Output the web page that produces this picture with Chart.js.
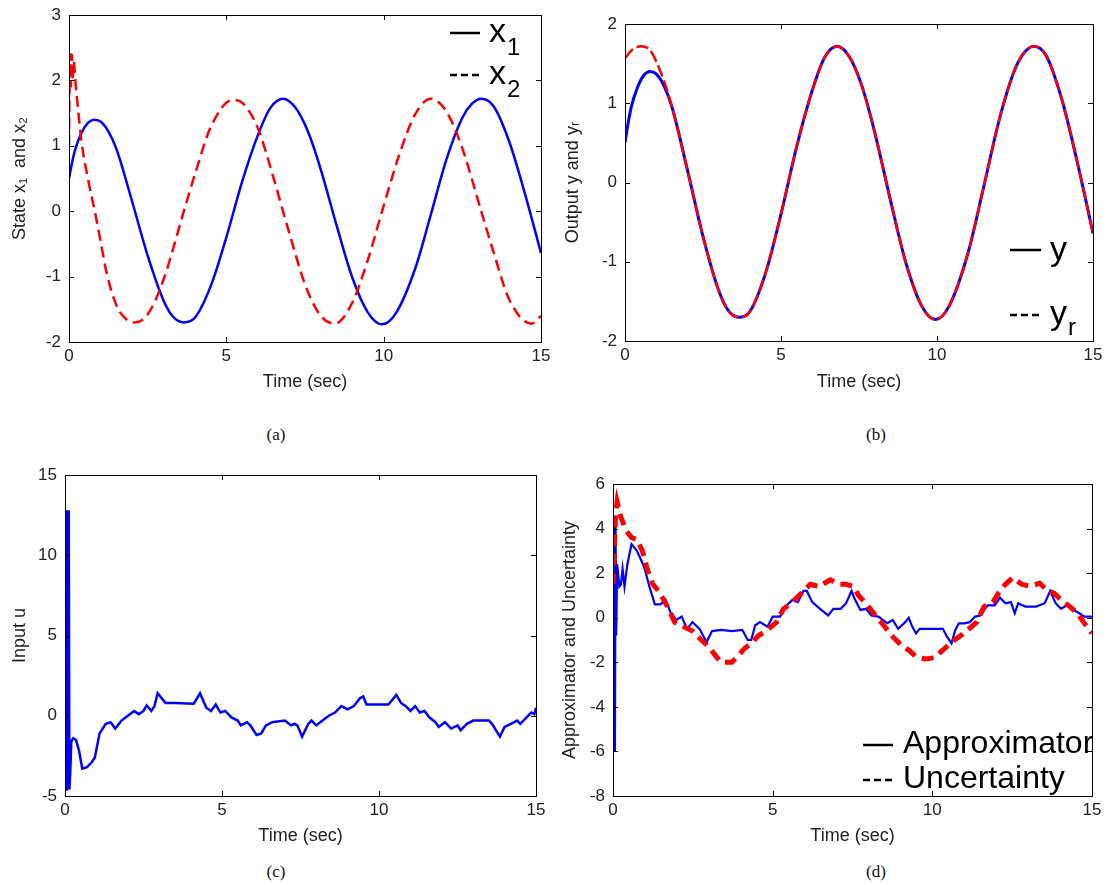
<!DOCTYPE html>
<html>
<head>
<meta charset="utf-8">
<script src="https://cdn.jsdelivr.net/npm/chart.js@4/dist/chart.umd.min.js"></script>
<style>
  body { margin: 0; background: #fff; }
  #page { position: relative; width: 1110px; height: 885px; overflow: hidden; }
  canvas { position: absolute; }
  .cap { position: absolute; width: 80px; text-align: center; font: 17px 'Liberation Serif', 'Times New Roman', serif; color: #111; line-height: 20px; }
</style>
</head>
<body>
<div id="page">
  <canvas id="chartA" width="560" height="400" style="left:0;top:0"></canvas>
  <canvas id="chartB" width="550" height="400" style="left:560px;top:0"></canvas>
  <canvas id="chartC" width="560" height="400" style="left:0;top:450px"></canvas>
  <canvas id="chartD" width="550" height="400" style="left:560px;top:450px"></canvas>
  <div class="cap" style="left:236px;top:425px">(a)</div>
  <div class="cap" style="left:836px;top:425px">(b)</div>
  <div class="cap" style="left:236px;top:862px">(c)</div>
  <div class="cap" style="left:836px;top:862px">(d)</div>
</div>
<script>
// (a) states, pairs of [time, value]
const stateX1 = [[0,0.5],[0.1,0.75],[0.2,0.95],[0.4,1.2],[0.6,1.35],[0.8,1.4],[1.0,1.37],[1.25,1.22],[1.5,0.96],
  [2.0,0.16],[2.5,-0.68],[3.0,-1.36],[3.3,-1.61],[3.65,-1.70],[4.0,-1.63],[4.5,-1.15],[5.0,-0.40],[5.5,0.45],
  [6.0,1.16],[6.4,1.58],[6.8,1.72],[7.2,1.58],[7.6,1.21],[8.0,0.64],[8.5,-0.21],[9.0,-1.01],[9.5,-1.55],
  [9.95,-1.73],[10.4,-1.55],[11.0,-0.88],[11.5,-0.05],[12.0,0.80],[12.5,1.43],[12.8,1.64],[13.1,1.72],
  [13.5,1.60],[14.0,1.05],[14.5,0.25],[15.0,-0.64]];
const stateX2 = [[0,1.0],[0.03,2.4],[0.06,1.9],[0.09,2.4],[0.12,2.0],[0.15,2.3],[0.2,2.0],[0.3,1.5],[0.4,1.05],
  [0.6,0.5],[0.82,0.0],[1.0,-0.45],[1.2,-0.95],[1.5,-1.43],[1.75,-1.62],[2.1,-1.70],[2.5,-1.58],[3.0,-1.05],
  [3.65,0.0],[4.0,0.56],[4.5,1.28],[5.2,1.70],[5.5,1.66],[6.0,1.27],[6.5,0.51],[6.8,0.0],[7.0,-0.33],
  [7.5,-1.12],[8.0,-1.60],[8.45,-1.72],[9.0,-1.40],[9.5,-0.74],[9.95,0.0],[10.5,0.87],[11.0,1.48],
  [11.5,1.72],[12.0,1.52],[12.5,0.96],[13.1,0.0],[13.5,-0.64],[14.0,-1.36],[14.7,-1.72],[15.0,-1.60]];

// (b) output y equals x1; reference yr
const outputY = stateX1;
const referenceYr = [[0,1.57],[0.25,1.68],[0.52,1.72],[0.8,1.67],[1.0,1.53],[1.25,1.28],[1.5,0.96],[2.0,0.16],
  [2.5,-0.68],[3.0,-1.36],[3.3,-1.61],[3.65,-1.70],[4.0,-1.63],[4.5,-1.15],[5.0,-0.40],[5.5,0.45],[6.0,1.16],
  [6.4,1.58],[6.8,1.72],[7.2,1.58],[7.6,1.21],[8.0,0.64],[8.5,-0.21],[9.0,-1.01],[9.5,-1.55],[9.95,-1.73],
  [10.4,-1.55],[11.0,-0.88],[11.5,-0.05],[12.0,0.80],[12.5,1.43],[12.8,1.64],[13.1,1.72],[13.5,1.60],
  [14.0,1.05],[14.5,0.25],[15.0,-0.64]];

// (c) control input
const inputU = [[0,3.0],[0.02,12.8],[0.04,-4.6],[0.06,12.8],[0.08,-4.6],[0.10,12.8],[0.12,10.7],[0.14,-4.6],
  [0.17,-3.4],[0.2,-1.6],[0.26,-1.4],[0.35,-1.5],[0.45,-2.2],[0.55,-3.3],[0.7,-3.2],[0.85,-2.9],[0.95,-2.6],
  [1.1,-1.1],[1.3,-0.5],[1.45,-0.4],[1.6,-0.8],[1.8,-0.3],[2.0,0.0],[2.2,0.3],[2.35,0.1],[2.5,0.3],[2.6,0.65],
  [2.75,0.3],[2.85,0.6],[2.95,1.4],[3.2,0.8],[3.5,0.8],[4.1,0.75],[4.3,1.4],[4.5,0.5],[4.65,0.3],[4.8,0.7],
  [4.95,0.2],[5.1,0.3],[5.3,-0.1],[5.5,-0.3],[5.6,-0.6],[5.8,-0.4],[5.9,-0.6],[6.1,-1.2],[6.25,-1.1],
  [6.4,-0.6],[6.6,-0.4],[7.0,-0.3],[7.2,-0.6],[7.3,-0.5],[7.4,-0.6],[7.55,-1.3],[7.75,-0.5],[7.85,-0.3],
  [8.0,-0.6],[8.2,-0.3],[8.4,0.0],[8.6,0.2],[8.8,0.6],[9.0,0.4],[9.2,0.6],[9.4,1.1],[9.5,1.2],[9.6,0.7],
  [10.3,0.7],[10.55,1.3],[10.7,0.8],[10.85,0.6],[11.0,0.3],[11.15,0.6],[11.3,0.2],[11.45,0.3],[11.6,-0.1],
  [11.8,-0.4],[11.9,-0.7],[12.1,-0.4],[12.3,-0.8],[12.5,-0.6],[12.6,-0.9],[12.8,-0.5],[13.0,-0.3],[13.5,-0.3],
  [13.6,-0.5],[13.85,-1.3],[14.0,-0.7],[14.2,-0.5],[14.4,-0.3],[14.5,-0.5],[14.7,-0.1],[14.85,0.2],
  [14.95,0.1],[15.0,0.5]];

// (d) approximator output and true uncertainty
const approximator = [[0,2.4],[0.02,-6.0],[0.04,4.2],[0.06,-6.0],[0.08,4.2],[0.1,-0.8],[0.13,2.4],[0.2,1.4],
  [0.25,1.5],[0.3,2.2],[0.36,1.4],[0.45,2.4],[0.58,3.3],[0.75,3.0],[0.97,2.3],[1.14,1.4],[1.31,0.6],[1.48,0.6],
  [1.65,0.8],[1.81,0.2],[1.98,-0.1],[2.15,0.05],[2.32,-0.5],[2.49,-0.2],[2.71,-0.5],[2.93,-1.1],[3.1,-0.6],
  [3.38,-0.55],[3.72,-0.6],[4.05,-0.55],[4.22,-1.0],[4.33,-1.0],[4.45,-0.35],[4.6,-0.2],[4.84,-0.4],[5.0,0.05],
  [5.23,0.05],[5.4,0.5],[5.62,0.8],[5.79,0.7],[5.96,1.2],[6.07,1.2],[6.24,0.7],[6.52,0.35],[6.74,0.1],[6.9,0.4],
  [7.13,0.4],[7.3,0.65],[7.47,1.2],[7.58,0.8],[7.75,0.35],[7.92,0.4],[8.09,0.1],[8.31,0.05],[8.59,-0.25],
  [8.76,-0.1],[8.93,-0.5],[9.15,-0.2],[9.26,0.0],[9.37,-0.4],[9.49,-0.7],[9.6,-0.5],[9.88,-0.5],[10.33,-0.5],
  [10.46,-0.85],[10.6,-1.15],[10.72,-0.55],[10.83,-0.25],[11.0,-0.25],[11.17,-0.2],[11.34,0.05],[11.5,0.1],
  [11.73,0.55],[11.95,0.55],[12.12,0.9],[12.29,0.65],[12.46,0.7],[12.58,0.2],[12.69,0.65],[12.91,0.5],
  [13.25,0.5],[13.52,0.65],[13.69,1.2],[13.86,0.65],[14.03,0.4],[14.2,0.55],[14.42,0.35],[14.6,0.2],
  [14.76,0.05],[15.0,0.05]];
const uncertainty = [[0,1.5],[0.08,4.6],[0.13,5.2],[0.25,4.5],[0.41,3.9],[0.58,3.6],[0.75,3.5],[0.92,3.0],
  [1.09,2.1],[1.25,1.5],[1.42,1.2],[1.59,0.8],[1.76,0.35],[1.93,-0.2],[2.2,-0.4],[2.49,-0.6],[2.77,-1.0],
  [2.99,-1.3],[3.21,-1.7],[3.38,-2.0],[3.72,-2.0],[3.89,-1.75],[4.11,-1.4],[4.33,-1.15],[4.56,-0.8],
  [4.84,-0.55],[5.12,-0.2],[5.34,0.4],[5.62,0.7],[5.9,1.1],[6.18,1.5],[6.46,1.4],[6.8,1.7],[7.08,1.5],
  [7.3,1.5],[7.53,1.4],[7.69,1.0],[7.97,0.55],[8.25,0.05],[8.48,-0.35],[8.76,-0.85],[9.04,-1.25],[9.26,-1.45],
  [9.49,-1.75],[9.77,-1.85],[10.05,-1.8],[10.33,-1.45],[10.6,-1.1],[10.89,-0.8],[11.11,-0.55],[11.39,-0.2],
  [11.62,0.5],[11.9,0.7],[12.07,1.1],[12.29,1.5],[12.52,1.8],[12.8,1.5],[13.08,1.4],[13.36,1.55],[13.58,1.25],
  [13.81,1.1],[14.03,0.8],[14.31,0.5],[14.54,0.2],[14.76,-0.25],[15.0,-0.7]];

const timeTicks = [0, 5, 10, 15];

const BLUE = '#0000ff';
const RED = '#ff0000';
const SANS = "'Liberation Sans', Arial, Helvetica, sans-serif";

const toXY = pairs => pairs.map(([x, y]) => ({x, y}));

// matlab-ish box with inward ticks on all four sides
const matlabFrame = {
  id: 'matlabFrame',
  afterDatasetsDraw(chart) {
    const {ctx, chartArea: a, scales: {x, y}} = chart;
    ctx.save();
    ctx.strokeStyle = '#000';
    ctx.lineWidth = 1;
    ctx.beginPath();
    x.ticks.forEach(t => {
      const px = Math.round(x.getPixelForValue(t.value)) + 0.5;
      ctx.moveTo(px, a.bottom); ctx.lineTo(px, a.bottom - 5);
      ctx.moveTo(px, a.top); ctx.lineTo(px, a.top + 5);
    });
    y.ticks.forEach(t => {
      const py = Math.round(y.getPixelForValue(t.value)) + 0.5;
      ctx.moveTo(a.left, py); ctx.lineTo(a.left + 5, py);
      ctx.moveTo(a.right, py); ctx.lineTo(a.right - 5, py);
    });
    ctx.stroke();
    ctx.strokeRect(Math.round(a.left) + 0.5, Math.round(a.top) + 0.5,
      Math.round(a.right - a.left), Math.round(a.bottom - a.top));
    ctx.restore();
  }
};

// legend drawn inside the axes, like the figure
const inlineLegend = {
  id: 'inlineLegend',
  afterDraw(chart, args, opts) {
    if (!opts.items) return;
    const {ctx, chartArea: a} = chart;
    ctx.save();
    ctx.beginPath();
    ctx.rect(a.left, a.top, a.right - a.left, a.bottom - a.top);
    ctx.clip();
    ctx.fillStyle = '#000';
    ctx.strokeStyle = '#000';
    ctx.textBaseline = 'alphabetic';
    opts.items.forEach(it => {
      ctx.lineWidth = 2.5;
      ctx.setLineDash(it.dashed ? [7, 4] : []);
      ctx.beginPath();
      ctx.moveTo(a.right + opts.lineX0, a.top + it.lineY);
      ctx.lineTo(a.right + opts.lineX1, a.top + it.lineY);
      ctx.stroke();
      ctx.setLineDash([]);
      ctx.font = opts.size + 'px ' + SANS;
      const tx = a.right + opts.textX;
      ctx.fillText(it.text, tx, a.top + it.base);
      if (it.sub) {
        const w = ctx.measureText(it.text).width;
        ctx.font = opts.subSize + 'px ' + SANS;
        ctx.fillText(it.sub, tx + w + 1, a.top + it.subBase);
      }
    });
    ctx.restore();
  }
};

function axes(cfg) {
  const tickFont = {family: SANS, size: 17};
  const titleFont = {family: SANS, size: 18, lineHeight: 1};
  return {
    x: {
      type: 'linear', min: 0, max: 15,
      afterBuildTicks: s => { s.ticks = timeTicks.map(v => ({value: v})); },
      ticks: {color: '#222', font: tickFont, padding: 4, maxRotation: 0},
      grid: {display: false, drawTicks: false},
      border: {display: false},
      title: {display: true, text: 'Time (sec)', color: '#222', font: titleFont, padding: 0},
      afterFit: s => { s.height = cfg.xHeight; s.paddingLeft = 0; s.paddingRight = 0; }
    },
    y: {
      type: 'linear', min: cfg.yMin, max: cfg.yMax,
      ticks: {stepSize: cfg.yStep, color: '#222', font: tickFont, padding: 8},
      grid: {display: false, drawTicks: false},
      border: {display: false},
      title: {display: true, text: cfg.yTitle, color: '#222', font: titleFont, padding: 0},
      afterFit: s => { s.width = cfg.yWidth; s.paddingTop = 0; s.paddingBottom = 0; }
    }
  };
}

function makeChart(id, datasets, cfg, legend) {
  return new Chart(document.getElementById(id), {
    type: 'line',
    data: {datasets},
    options: {
      responsive: false,
      animation: false,
      events: [],
      layout: {autoPadding: false, padding: cfg.padding},
      scales: axes(cfg),
      elements: {point: {radius: 0}},
      plugins: {legend: {display: false}, tooltip: {enabled: false}, inlineLegend: legend}
    },
    plugins: [matlabFrame, inlineLegend]
  });
}

makeChart('chartA', [
  {label: 'x1', data: toXY(stateX1), borderColor: BLUE, borderWidth: 2.5, cubicInterpolationMode: 'monotone', order: 1},
  {label: 'x2', data: toXY(stateX2), borderColor: RED, borderWidth: 2.5, borderDash: [11, 6], cubicInterpolationMode: 'monotone', order: 0}
], {
  yMin: -2, yMax: 3, yStep: 1, yTitle: 'State x\u2081  and x\u2082',
  yWidth: 58, xHeight: 49, padding: {left: 11, top: 15, right: 19, bottom: 9}
}, {
  lineX0: -91, lineX1: -61, textX: -52, size: 34, subSize: 24,
  items: [
    {text: 'x', sub: '1', lineY: 18, base: 27, subBase: 40},
    {text: 'x', sub: '2', dashed: true, lineY: 60, base: 69, subBase: 82}
  ]
});

makeChart('chartB', [
  {label: 'y', data: toXY(outputY), borderColor: BLUE, borderWidth: 3, cubicInterpolationMode: 'monotone', order: 1},
  {label: 'yr', data: toXY(referenceYr), borderColor: RED, borderWidth: 2.5, borderDash: [12, 4], cubicInterpolationMode: 'monotone', order: 0}
], {
  yMin: -2, yMax: 2, yStep: 1, yTitle: 'Output y and y\u1d63',
  yWidth: 61, xHeight: 50, padding: {left: 4, top: 24, right: 17, bottom: 9}
}, {
  lineX0: -83, lineX1: -52, textX: -43, size: 34, subSize: 24,
  items: [
    {text: 'y', lineY: 226, base: 236},
    {text: 'y', sub: 'r', dashed: true, lineY: 291, base: 300, subBase: 311}
  ]
});

makeChart('chartC', [
  {label: 'u', data: toXY(inputU), borderColor: BLUE, borderWidth: 2.5, tension: 0}
], {
  yMin: -5, yMax: 15, yStep: 5, yTitle: 'Input u',
  yWidth: 54, xHeight: 49, padding: {left: 11, top: 25, right: 24, bottom: 5}
}, {});

makeChart('chartD', [
  {label: 'Approximator', data: toXY(approximator), borderColor: BLUE, borderWidth: 2.2, tension: 0, order: 1},
  {label: 'Uncertainty', data: toXY(uncertainty), borderColor: RED, borderWidth: 5, borderDash: [12, 7], tension: 0, order: 0}
], {
  yMin: -8, yMax: 6, yStep: 2, yTitle: 'Approximator and Uncertainty',
  yWidth: 52, xHeight: 49, padding: {left: 1, top: 34, right: 18, bottom: 5}
}, {
  lineX0: -229, lineX1: -199, textX: -189, size: 32, subSize: 20,
  items: [
    {text: 'Approximator', lineY: 261, base: 269},
    {text: 'Uncertainty', dashed: true, lineY: 296, base: 304}
  ]
});
</script>
</body>
</html>
